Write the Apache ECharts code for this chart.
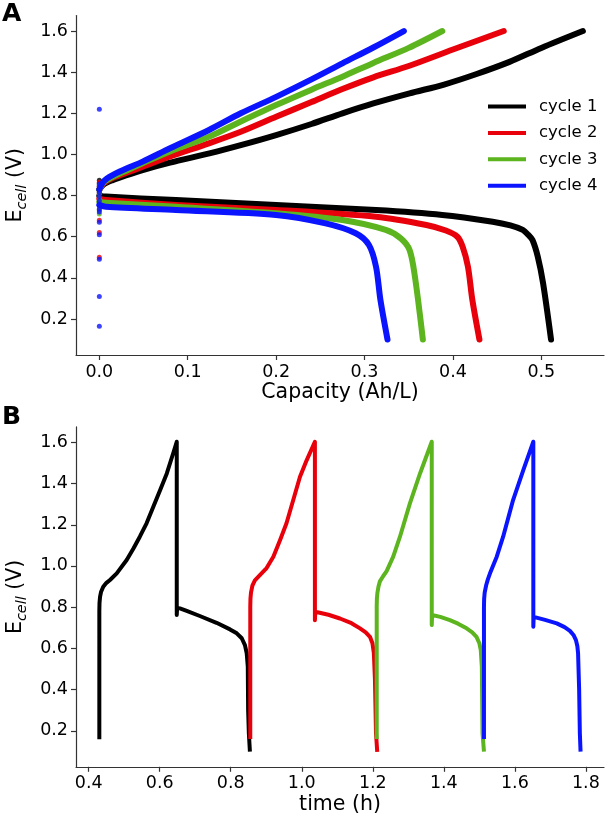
<!DOCTYPE html>
<html>
<head>
<meta charset="utf-8">
<script src="https://cdn.jsdelivr.net/npm/echarts@6/dist/echarts.min.js"></script>
<style>html,body{margin:0;padding:0;background:#fff}#c{width:608px;height:818px}</style>
</head>
<body>
<div id="c"></div>
<script>
// ---------- Panel A : E_cell vs capacity ----------
var cycleNames = ['cycle 1', 'cycle 2', 'cycle 3', 'cycle 4'];
var cycleColors = ['#000000', '#e8000b', '#5cb41e', '#0a14ff'];

var chargeCap_c1 = [0.000, 0.005, 0.015, 0.030, 0.049, 0.080, 0.1245, 0.160, 0.200, 0.240, 0.275, 0.310, 0.351, 0.390, 0.426, 0.464, 0.500, 0.547];
var chargeE_c1   = [0.830, 0.855, 0.875, 0.898, 0.924, 0.960, 1.005, 1.045, 1.094, 1.148, 1.200, 1.248, 1.297, 1.340, 1.390, 1.450, 1.518, 1.600];
var chargeCap_c2 = [0.000, 0.005, 0.015, 0.030, 0.049, 0.080, 0.124, 0.160, 0.200, 0.240, 0.275, 0.310, 0.350, 0.400, 0.4575];
var chargeE_c2   = [0.830, 0.860, 0.885, 0.910, 0.940, 0.990, 1.054, 1.110, 1.183, 1.255, 1.318, 1.375, 1.430, 1.510, 1.600];
var chargeCap_c3 = [0.000, 0.005, 0.015, 0.030, 0.049, 0.080, 0.124, 0.160, 0.200, 0.240, 0.275, 0.310, 0.350, 0.388];
var chargeE_c3   = [0.830, 0.865, 0.890, 0.920, 0.957, 1.015, 1.086, 1.160, 1.240, 1.315, 1.378, 1.445, 1.518, 1.600];
var chargeCap_c4 = [0.000, 0.005, 0.015, 0.030, 0.049, 0.080, 0.124, 0.160, 0.200, 0.240, 0.275, 0.310, 0.3445];
var chargeE_c4   = [0.830, 0.870, 0.900, 0.930, 0.965, 1.030, 1.119, 1.200, 1.280, 1.365, 1.443, 1.520, 1.600];

var dischCap_c1 = [0.000, 0.0075, 0.0867, 0.200, 0.313, 0.388, 0.445, 0.465, 0.479, 0.485, 0.490, 0.496, 0.502, 0.511];
var dischE_c1   = [0.800, 0.795, 0.778, 0.754, 0.730, 0.706, 0.673, 0.655, 0.633, 0.610, 0.584, 0.503, 0.374, 0.100];
var dischCap_c2 = [0.000, 0.0075, 0.0867, 0.200, 0.313, 0.370, 0.392, 0.405, 0.411, 0.417, 0.422, 0.430];
var dischE_c2   = [0.785, 0.778, 0.754, 0.730, 0.697, 0.657, 0.630, 0.600, 0.551, 0.454, 0.292, 0.100];
var dischCap_c3 = [0.000, 0.0075, 0.0867, 0.200, 0.275, 0.324, 0.341, 0.351, 0.357, 0.366];
var dischE_c3   = [0.770, 0.765, 0.746, 0.714, 0.681, 0.633, 0.592, 0.535, 0.406, 0.100];
var dischCap_c4 = [0.000, 0.0075, 0.0867, 0.200, 0.256, 0.290, 0.305, 0.313, 0.318, 0.326];
var dischE_c4   = [0.755, 0.746, 0.730, 0.706, 0.665, 0.617, 0.560, 0.454, 0.292, 0.100];

// isolated points recorded at zero capacity
var zeroDotsE_c1 = [0.875, 0.86, 0.845, 0.83, 0.815, 0.80, 0.785, 0.77];
var zeroDotsE_c2 = [0.865, 0.845, 0.83, 0.81, 0.79, 0.77, 0.75, 0.73, 0.68, 0.62, 0.50];
var zeroDotsE_c3 = [0.85, 0.83, 0.81, 0.79, 0.77, 0.75, 0.73, 0.71];
var zeroDotsE_c4 = [1.22, 0.855, 0.835, 0.815, 0.795, 0.775, 0.755, 0.735, 0.72, 0.67, 0.61, 0.49, 0.31, 0.165];

// ---------- Panel B : E_cell vs time ----------
var time_c1  = [0.430, 0.430, 0.4305, 0.432, 0.435, 0.441, 0.450, 0.460, 0.479, 0.507, 0.526, 0.544, 0.563, 0.582, 0.601, 0.620, 0.638, 0.648, 0.648, 0.649, 0.657, 0.676, 0.713, 0.760, 0.798, 0.817, 0.831, 0.840, 0.845, 0.848, 0.849, 0.851, 0.854];
var ecell_c1 = [0.159, 0.780, 0.820, 0.850, 0.875, 0.899, 0.918, 0.932, 0.964, 1.029, 1.085, 1.142, 1.207, 1.287, 1.368, 1.449, 1.547, 1.603, 0.762, 0.796, 0.794, 0.782, 0.757, 0.724, 0.692, 0.673, 0.649, 0.616, 0.576, 0.511, 0.300, 0.188, 0.099];
var time_c2  = [0.855, 0.855, 0.8555, 0.857, 0.861, 0.868, 0.882, 0.901, 0.920, 0.939, 0.957, 0.976, 0.995, 1.014, 1.037, 1.037, 1.038, 1.042, 1.075, 1.1075, 1.140, 1.164, 1.180, 1.192, 1.199, 1.203, 1.206, 1.209, 1.2125];
var ecell_c2 = [0.160, 0.800, 0.840, 0.870, 0.905, 0.930, 0.955, 0.990, 1.045, 1.126, 1.207, 1.320, 1.433, 1.514, 1.603, 0.737, 0.778, 0.778, 0.763, 0.745, 0.722, 0.697, 0.678, 0.656, 0.625, 0.576, 0.450, 0.188, 0.098];
var time_c3  = [1.211, 1.211, 1.2115, 1.213, 1.216, 1.220, 1.229, 1.239, 1.2575, 1.2765, 1.3045, 1.333, 1.366, 1.366, 1.367, 1.390, 1.417, 1.440, 1.464, 1.480, 1.492, 1.500, 1.504, 1.507, 1.509, 1.513];
var ecell_c3 = [0.160, 0.800, 0.840, 0.870, 0.900, 0.925, 0.950, 0.975, 1.045, 1.142, 1.304, 1.449, 1.603, 0.713, 0.762, 0.753, 0.737, 0.720, 0.697, 0.678, 0.656, 0.625, 0.592, 0.511, 0.188, 0.099];
var time_c4  = [1.513, 1.513, 1.5135, 1.515, 1.519, 1.524, 1.530, 1.549, 1.567, 1.595, 1.624, 1.652, 1.652, 1.653, 1.685, 1.718, 1.740, 1.755, 1.765, 1.772, 1.776, 1.778, 1.781, 1.783, 1.785];
var ecell_c4 = [0.160, 0.800, 0.840, 0.870, 0.905, 0.935, 0.964, 1.045, 1.142, 1.320, 1.466, 1.603, 0.705, 0.753, 0.738, 0.721, 0.703, 0.685, 0.665, 0.640, 0.610, 0.576, 0.400, 0.188, 0.099];

var yTicks = [0.2, 0.4, 0.6, 0.8, 1.0, 1.2, 1.4, 1.6];
var capTicks = [0.0, 0.1, 0.2, 0.3, 0.4, 0.5];
var timeTicks = [0.4, 0.6, 0.8, 1.0, 1.2, 1.4, 1.6, 1.8];

function zip(xs, ys) { return xs.map(function (x, i) { return [x, ys[i]]; }); }
function zeros(ys) { return ys.map(function (y) { return [0, y]; }); }

var FONT = 'DejaVu Sans';
var axisCol = '#333333';

function valAxis(gridIndex, min, max, ticks, name, nameGap, isY) {
  var ax = {
    type: 'value', gridIndex: gridIndex, min: min, max: max,
    splitLine: { show: false },
    axisLine: { show: true, onZero: false, lineStyle: { color: axisCol, width: 1.2 } },
    axisTick: { show: true, inside: false, length: 5, lineStyle: { color: axisCol, width: 1.2 }, customValues: ticks },
    axisLabel: { show: true, margin: 8, color: '#000', fontSize: 17.5, fontFamily: FONT, customValues: ticks,
      formatter: function (v) { return Number(v).toFixed(1); } },
    name: name, nameLocation: 'middle', nameGap: nameGap,
    nameTextStyle: { color: '#000', fontSize: 20.5, fontFamily: FONT }
  };
  if (isY) {
    ax.nameTextStyle.rich = {
      e: { fontSize: 20.5, fontFamily: FONT, color: '#000', lineHeight: 28 },
      s: { fontSize: 14.5, fontFamily: FONT, fontStyle: 'italic', color: '#000', lineHeight: 14, verticalAlign: 'bottom' }
    };
  }
  return ax;
}

var series = [];
var chargeCaps = [chargeCap_c1, chargeCap_c2, chargeCap_c3, chargeCap_c4];
var chargeEs = [chargeE_c1, chargeE_c2, chargeE_c3, chargeE_c4];
var dischCaps = [dischCap_c1, dischCap_c2, dischCap_c3, dischCap_c4];
var dischEs = [dischE_c1, dischE_c2, dischE_c3, dischE_c4];
var zeroDots = [zeroDotsE_c1, zeroDotsE_c2, zeroDotsE_c3, zeroDotsE_c4];
var times = [time_c1, time_c2, time_c3, time_c4];
var ecells = [ecell_c1, ecell_c2, ecell_c3, ecell_c4];

for (var i = 0; i < 4; i++) {
  var col = cycleColors[i];
  series.push({
    type: 'line', name: cycleNames[i], xAxisIndex: 0, yAxisIndex: 0, data: zip(chargeCaps[i], chargeEs[i]),
    showSymbol: false, smooth: 0.3, color: col, lineStyle: { color: col, width: 6, cap: 'round', join: 'round' },
    animation: false, z: 2 + i
  });
  series.push({
    type: 'line', name: cycleNames[i], xAxisIndex: 0, yAxisIndex: 0, data: zip(dischCaps[i], dischEs[i]),
    showSymbol: false, smooth: 0.3, color: col, lineStyle: { color: col, width: 6, cap: 'round', join: 'round' },
    animation: false, z: 2 + i
  });
  series.push({
    type: 'scatter', name: cycleNames[i], xAxisIndex: 0, yAxisIndex: 0, data: zeros(zeroDots[i]),
    symbol: 'circle', symbolSize: 5, itemStyle: { color: col }, animation: false, z: 2 + i
  });
  series.push({
    type: 'line', name: cycleNames[i], xAxisIndex: 1, yAxisIndex: 1, data: zip(times[i], ecells[i]),
    showSymbol: false, smooth: false, color: col, lineStyle: { color: col, width: 4, cap: 'butt', join: 'round' },
    animation: false, z: 2 + i
  });
}

var chart = echarts.init(document.getElementById('c'), null, { renderer: 'canvas' });
chart.setOption({
  animation: false,
  backgroundColor: '#ffffff',
  textStyle: { fontFamily: FONT },
  grid: [
    { left: 76, top: 15.6, right: 4, height: 339.4, containLabel: false, outerBoundsMode: 'none' },
    { left: 76, top: 426.9, right: 4, height: 339.9, containLabel: false, outerBoundsMode: 'none' }
  ],
  xAxis: [
    valAxis(0, -0.0264, 0.5709, capTicks, 'Capacity (Ah/L)', 27, false),
    valAxis(1, 0.3643, 1.851, timeTicks, 'time (h)', 27, false)
  ],
  yAxis: [
    valAxis(0, 0.025, 1.675, yTicks, '{e|E}{s|cell}{e| (V)}', 42, true),
    valAxis(1, 0.025, 1.675, yTicks, '{e|E}{s|cell}{e| (V)}', 42, true)
  ],
  legend: {
    data: cycleNames, orient: 'vertical', left: 488, top: 98, padding: 0,
    icon: 'rect', itemWidth: 38, itemHeight: 4, itemGap: 9.4,
    textStyle: { fontSize: 16.5, fontFamily: FONT, color: '#000', lineHeight: 16, padding: [0, 0, 0, 8] },
    selectedMode: false
  },
  graphic: [
    { type: 'text', left: 2, top: 2, style: { text: 'A', font: 'bold 25px "DejaVu Sans"', fill: '#000' } },
    { type: 'text', left: 2, top: 405, style: { text: 'B', font: 'bold 25px "DejaVu Sans"', fill: '#000' } }
  ],
  series: series
});
</script>
</body>
</html>
